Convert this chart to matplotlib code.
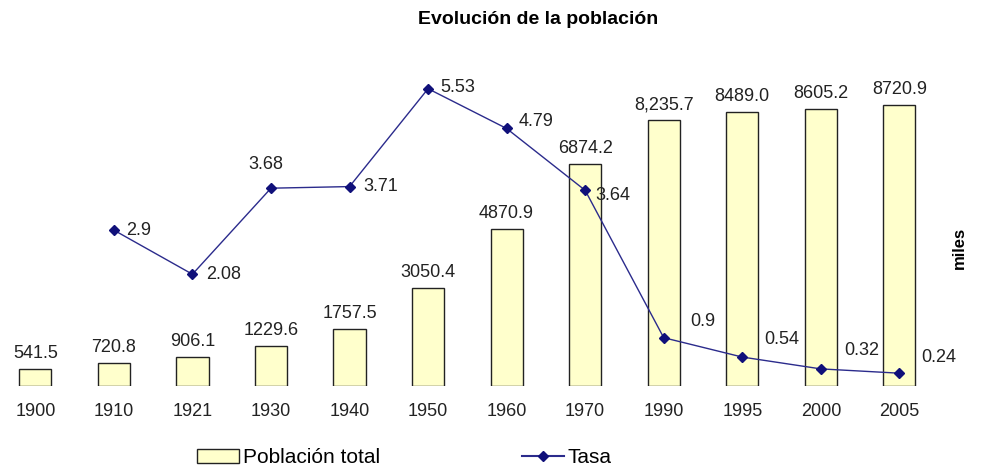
import numpy as np
import matplotlib
matplotlib.use("Agg")
import matplotlib.pyplot as plt
from matplotlib.lines import Line2D
from matplotlib.patches import Patch

plt.rcParams['font.family'] = ['Liberation Sans', 'DejaVu Sans']

years = ["1900", "1910", "1921", "1930", "1940", "1950", "1960", "1970",
         "1990", "1995", "2000", "2005"]
poblacion = [541.5, 720.8, 906.1, 1229.6, 1757.5, 3050.4, 4870.9, 6874.2,
             8235.7, 8489.0, 8605.2, 8720.9]
poblacion_labels = ["541.5", "720.8", "906.1", "1229.6", "1757.5", "3050.4",
                    "4870.9", "6874.2", "8,235.7", "8489.0", "8605.2", "8720.9"]
tasa = [np.nan, 2.9, 2.08, 3.68, 3.71, 5.53, 4.79, 3.64, 0.9, 0.54, 0.32, 0.24]
tasa_labels = ["", "2.9", "2.08", "3.68", "3.71", "5.53", "4.79", "3.64",
               "0.9", "0.54", "0.32", "0.24"]

# label offsets (points) for the rate labels
tasa_off = [(0, 0), (9, 0), (10, 0), (-4, 17), (10, 0), (9, 1), (9, 5),
            (7, -4), (19, 12), (16, 13), (17, 13), (16, 11)]

fig = plt.figure(figsize=(9.87, 4.68), dpi=100)
ax = fig.add_axes([-0.004, 0.175, 0.955, 0.655])
x = np.arange(len(years))

bar_fill = "#ffffcc"
line_col = "#2b2b8c"
fs = 13

ax.bar(x, poblacion, width=0.41, color=bar_fill, edgecolor="#222222", linewidth=1.0)
ax.set_ylim(0, 9503)
ax.set_xlim(-0.5, len(years) - 0.5)
for xi, v, s in zip(x, poblacion, poblacion_labels):
    ax.annotate(s, (xi, v), xytext=(0, 5), textcoords="offset points",
                ha="center", va="bottom", fontsize=fs, color="#222222")

ax2 = ax.twinx()
ax2.plot(x, tasa, color=line_col, linewidth=1.0, marker="D", markersize=5,
         markerfacecolor="#10107a", markeredgecolor="#10107a")
ax2.set_ylim(0, 5.70)
for xi, v, s, off in zip(x, tasa, tasa_labels, tasa_off):
    if s:
        ax2.annotate(s, (xi, v), xytext=off, textcoords="offset points",
                     ha="left" if off[0] > 0 else "center", va="center",
                     fontsize=fs, color="#222222")

for a in (ax, ax2):
    for sp in a.spines.values():
        sp.set_visible(False)
    a.set_yticks([])
ax.set_xticks(x)
ax.set_xticklabels(years, fontsize=fs, color="#222222")
ax.tick_params(axis="x", length=0, pad=12)

fig.text(0.545, 0.958, "Evolución de la población", ha="center", va="center",
         fontsize=14, fontweight="bold")
fig.text(0.972, 0.47, "miles", rotation=90, ha="center", va="center",
         fontsize=12, fontweight="bold")

handles = [Patch(facecolor=bar_fill, edgecolor="#222222", linewidth=1.0),
           Line2D([], [], color=line_col, marker="D", markersize=5,
                  markerfacecolor="#10107a", markeredgecolor="#10107a")]
fig.legend(handles, ["Población total", "Tasa"], loc="center",
           bbox_to_anchor=(0.41, 0.022), ncol=2, frameon=False, fontsize=15,
           columnspacing=6.8, handlelength=2.0, handletextpad=0.2)

fig.savefig("out.png", dpi=100)
